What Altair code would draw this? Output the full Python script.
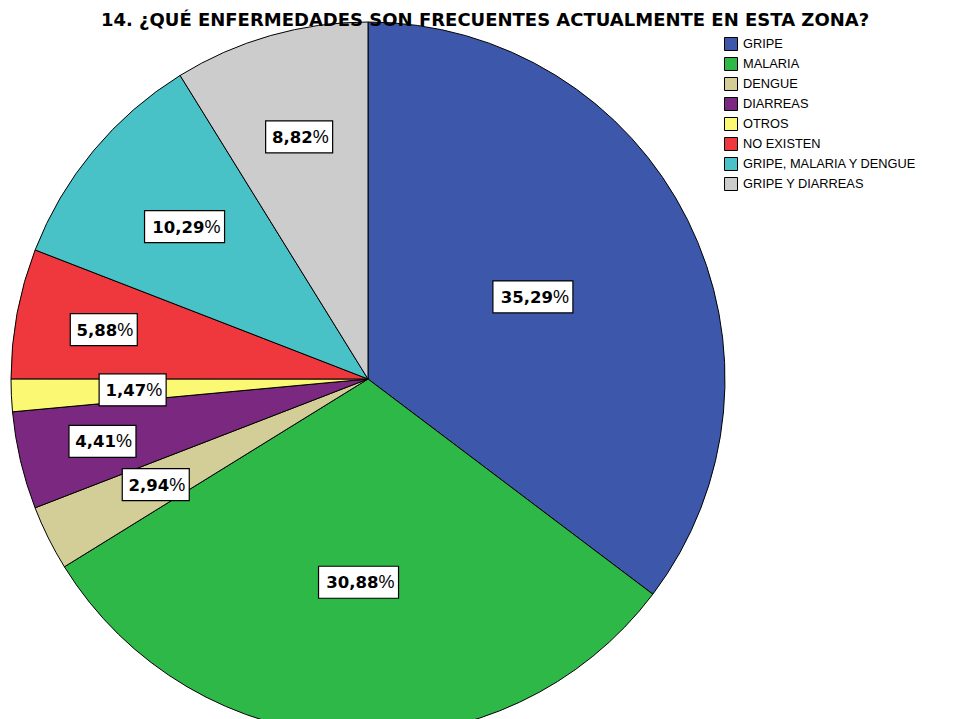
import altair as alt
import pandas as pd

categories = ["GRIPE", "MALARIA", "DENGUE", "DIARREAS", "OTROS", "NO EXISTEN",
              "GRIPE, MALARIA Y DENGUE", "GRIPE Y DIARREAS"]
percent = [35.29, 30.88, 2.94, 4.41, 1.47, 5.88, 10.29, 8.82]
colors = ["#3d58aa", "#2eb848", "#d3ce97", "#7a2880", "#fbf873", "#ee383e",
          "#48c1c7", "#cccccc"]
title_text = "14. ¿QUÉ ENFERMEDADES SON FRECUENTES ACTUALMENTE EN ESTA ZONA?"
# label distance from centre as a fraction of the radius (layout only)
label_r = [0.516, 0.57, 0.664, 0.764, 0.66, 0.753, 0.668, 0.705]

CX, CY, R = 360, 363, 357

df = pd.DataFrame({"cat": categories, "pct": percent,
                   "ord": list(range(len(categories))), "lr": label_r})

base = alt.Chart(df)

color = alt.Color("cat:N", sort=categories,
                  scale=alt.Scale(domain=categories, range=colors),
                  legend=alt.Legend(title=None, orient="none", legendX=716, legendY=21,
                                    symbolType="square", symbolSize=169,
                                    symbolStrokeColor="black", symbolStrokeWidth=1,
                                    symbolOpacity=1, labelFont="Liberation Sans",
                                    labelFontSize=12.8, labelColor="black",
                                    labelLimit=400,
                                    rowPadding=2, labelOffset=5, padding=0))

pie = base.mark_arc(outerRadius=R, stroke="black", strokeWidth=1).encode(
    theta=alt.Theta("pct:Q", stack=True),
    order=alt.Order("ord:Q"),
    color=color,
    x=alt.value(CX), y=alt.value(CY),
)

lab = base.transform_window(
    cum="sum(pct)", sort=[alt.SortField("ord")], frame=[None, 0]
).transform_joinaggregate(total="sum(pct)").transform_calculate(
    mid="(datum.cum - datum.pct/2)/datum.total*2*PI",
    lbl="replace(format(datum.pct, '.2f'), '.', ',')",
).transform_calculate(
    lx=f"{CX} + datum.lr*{R}*sin(datum.mid)",
    ly=f"{CY} - datum.lr*{R}*cos(datum.mid)",
    w="13*(length(datum.lbl)+1) + 2",
).transform_calculate(
    x1="datum.lx - datum.w/2", x2="datum.lx + datum.w/2",
    y1="datum.ly - 16", y2="datum.ly + 16",
    tx="datum.lx + datum.w/2 - 20",
)

boxes = lab.mark_rect(fill="white", stroke="black", strokeWidth=1.2).encode(
    x=alt.X("x1:Q", scale=None, axis=None), x2="x2:Q",
    y=alt.Y("y1:Q", scale=None, axis=None), y2="y2:Q",
)
nums = lab.mark_text(align="right", baseline="middle", font="DejaVu Sans",
                     fontWeight="bold", fontSize=16.5, color="black", dy=1).encode(
    x=alt.X("tx:Q", scale=None), y=alt.Y("ly:Q", scale=None), text="lbl:N")
pcts = lab.mark_text(align="left", baseline="middle", font="Liberation Sans",
                     fontSize=18, color="black", dy=1).encode(
    x=alt.X("tx:Q", scale=None), y=alt.Y("ly:Q", scale=None), text=alt.value("%"))

title = alt.Chart(pd.DataFrame({"t": [title_text]})).mark_text(
    align="center", baseline="alphabetic", font="DejaVu Sans", fontWeight="bold",
    fontSize=18, color="black").encode(
    x=alt.value(477), y=alt.value(9.5), text="t:N")

chart = alt.layer(pie, boxes, nums, pcts, title).properties(
    width=946, height=703,
    padding={"left": 0, "top": 8, "right": 0, "bottom": 0},
    autosize=alt.AutoSizeParams(type="none"),
).configure_view(stroke=None)

chart.save("out.html", embed_options={"renderer": "svg", "actions": False})
